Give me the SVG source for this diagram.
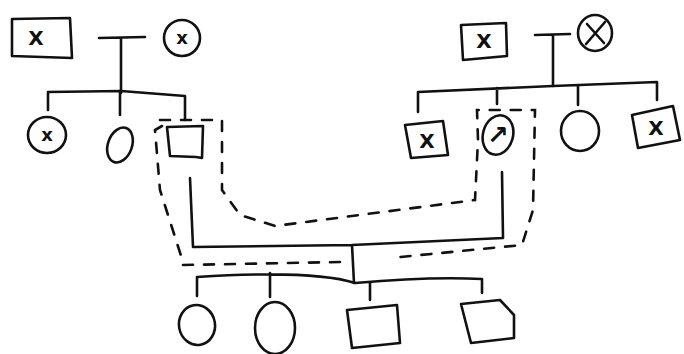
<svg xmlns="http://www.w3.org/2000/svg" width="684" height="354" viewBox="0 0 684 354">
<style>
.s{fill:none;stroke:#111;stroke-width:2.6;stroke-linecap:round;stroke-linejoin:round}
.d{fill:none;stroke:#111;stroke-width:2.6;stroke-dasharray:10 11;stroke-linecap:round}
.t{font-family:"DejaVu Sans","Liberation Sans",Arial,sans-serif;font-size:20px;font-weight:bold;fill:#111;text-anchor:middle}
.u{font-family:"DejaVu Sans","Liberation Sans",Arial,sans-serif;font-size:18px;font-weight:bold;fill:#111;text-anchor:middle}
.a{font-family:"DejaVu Sans","Liberation Sans",Arial,sans-serif;font-size:26px;font-weight:bold;fill:#111;text-anchor:middle}
</style>
<rect width="684" height="354" fill="#fff"/>
<g id="connectors">
<path class="s" d="M99 38 L145 37 M121 38 L121 93"/>
<path class="s" d="M48 110 L48 92 L121 91 L185 96 L185 120 M120 91 L120 115"/>
<path class="s" d="M535 35 L570 34 M553 35 L553 86"/>
<path class="s" d="M418 112 L418 92 L553 86 L657 82 L657 100 M497 88 L497 104 M578 86 L578 105"/>
<path class="s" d="M190 178 L193 247 L352 245 L503 238 L502 172 M352 245 L354 283"/>
<path class="s" d="M197 296 L197 277 C260 273 320 272 355 283 C400 279 440 277 482 279 L482 293 M270 273 L270 297 M370 282 L370 300"/>
<path class="d" d="M162 126 L155 130 L160 190 L183 262 M160 120 L222 120 L222 190 L240 215 L275 226 L475 200 L478 140 L477 110 L535 110 L533 210 L522 245 L390 258 M183 265 L340 262"/>
</g>
<g id="m1"><path class="s" d="M12 19 L70 18 L72 58 L12 56 Z"/><text class="t" x="36" y="45">X</text></g>
<g id="f1"><ellipse class="s" cx="182" cy="38" rx="18" ry="18"/><text class="u" x="182" y="44">x</text></g>
<g id="c1"><ellipse class="s" cx="47" cy="135" rx="19" ry="18"/><text class="u" x="47" y="141">x</text></g>
<g id="c2"><ellipse class="s" cx="120" cy="145" rx="12" ry="18" transform="rotate(20 120 145)"/></g>
<g id="c3"><path class="s" d="M167 127 L203 126 L202 158 L196 157 L170 156 Z"/></g>
<g id="m2"><path class="s" d="M461 25 L506 23 L507 56 L463 60 Z"/><text class="t" x="484" y="48">X</text></g>
<g id="f2"><ellipse class="s" cx="595" cy="33" rx="17" ry="18"/><path class="s" d="M586 44 L605 22 M587 24 L604 43"/></g>
<g id="c4"><path class="s" d="M405 125 L443 121 L448 155 L411 158 Z"/><text class="t" x="427" y="148">X</text></g>
<g id="c5"><ellipse class="s" cx="498" cy="135" rx="15" ry="20" transform="rotate(15 498 135)"/><text class="a" x="498" y="144">↗</text></g>
<g id="c6"><ellipse class="s" cx="580" cy="131" rx="19" ry="20"/></g>
<g id="c7"><path class="s" d="M632 115 L673 106 L680 140 L638 148 Z"/><text class="t" x="656" y="135">X</text></g>
<g id="g1"><ellipse class="s" cx="197" cy="325" rx="18" ry="20" transform="rotate(-10 197 325)"/></g>
<g id="g2"><ellipse class="s" cx="275" cy="328" rx="20" ry="26"/></g>
<g id="g3"><path class="s" d="M347 310 L397 305 L400 343 L352 348 Z"/></g>
<g id="g4"><path class="s" d="M461 304 L500 300 L514 315 L514 338 L471 343 Z"/></g>
</svg>
